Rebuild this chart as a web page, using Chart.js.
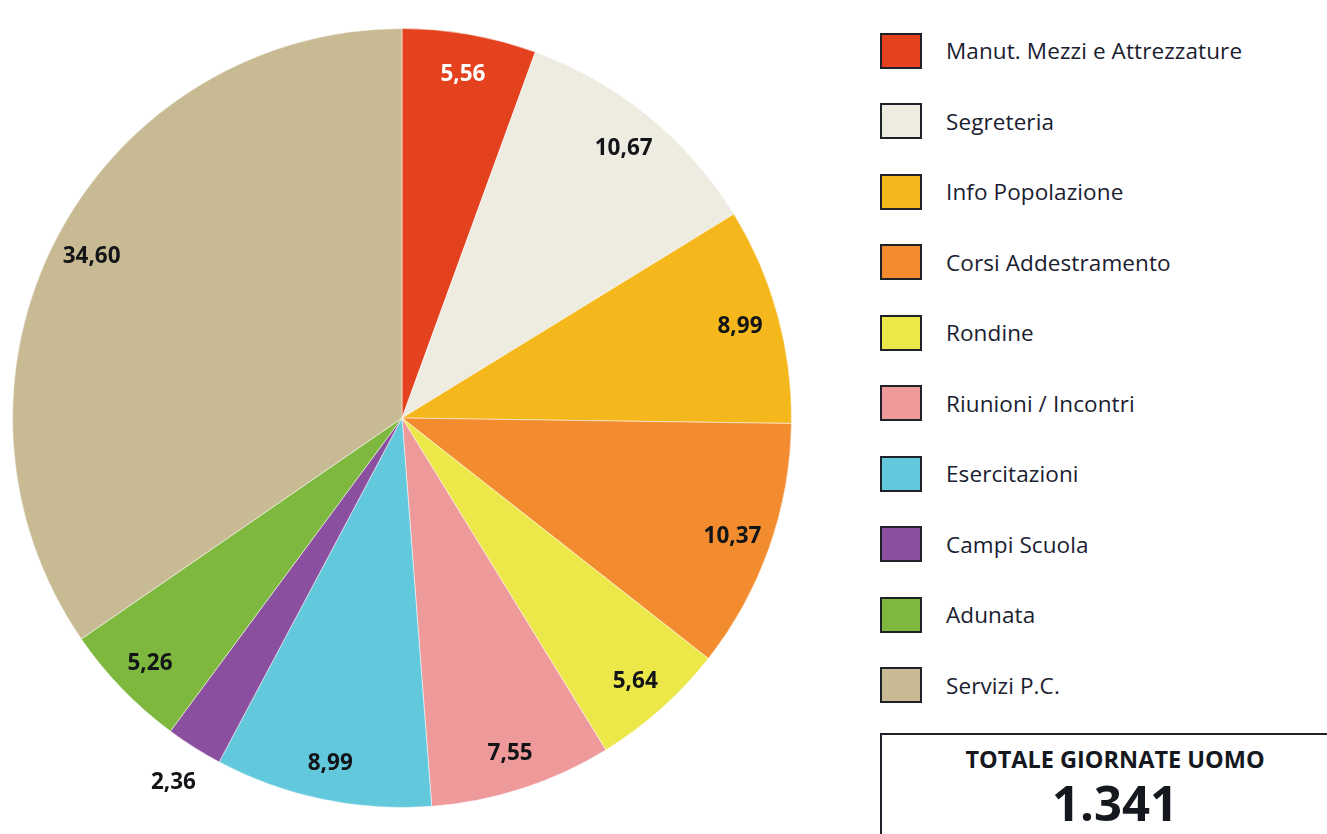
<!DOCTYPE html>
<html lang="it">
<head>
<meta charset="utf-8">
<title>Giornate uomo</title>
<script src="https://cdn.jsdelivr.net/npm/chart.js@4.4.1/dist/chart.umd.min.js"></script>
<style>
    body { margin: 0; background: #fff; font-family: "Open Sans", sans-serif; overflow: hidden; }
    #chartBox { position: absolute; left: 0; top: 0; width: 804px; height: 834px; }
    #legend { position: absolute; left: 880px; top: 0; }
    .item { position: absolute; left: 0; width: 440px; height: 36px; display: flex; align-items: center; }
    .swatch { width: 38px; height: 32px; border: 2px solid #1e2228; flex: none; }
    .item span { margin-left: 24px; font-size: 22.5px; color: #1a2030; white-space: nowrap; letter-spacing: 0.1px; }
    #totale { position: absolute; left: 880px; top: 733px; width: 470px; height: 120px;
              border: 2px solid #1e2228; box-sizing: border-box; }
    #totale .t1 { position: absolute; left: 0; width: 466px; top: 8px; text-align: center;
                  font-weight: 700; font-size: 23.5px; color: #15181e; }
    #totale .t2 { position: absolute; left: 0; width: 466px; top: 34px; text-align: center;
                  font-weight: 700; font-size: 49px; color: #15181e; }
</style>
</head>
<body>
<div id="chartBox"><canvas id="pieChart"></canvas></div>
<div id="legend"></div>
<div id="totale"><div class="t1"></div><div class="t2"></div></div>

<script>
const categories = [
    'Manut. Mezzi e Attrezzature',
    'Segreteria',
    'Info Popolazione',
    'Corsi Addestramento',
    'Rondine',
    'Riunioni / Incontri',
    'Esercitazioni',
    'Campi Scuola',
    'Adunata',
    'Servizi P.C.'
];
const percentages = [5.56, 10.67, 8.99, 10.37, 5.64, 7.55, 8.99, 2.36, 5.26, 34.60];
const sliceColors = ['#e4411e', '#eeebe1', '#f5b81c', '#f38c2f', '#ede84a',
                     '#ee999a', '#62c8dc', '#8b4fa0', '#7eb83e', '#c8bb93'];
const totalTitle = 'TOTALE GIORNATE UOMO';
const totalDays = 1341;

function fmtIt(v) {
    return v.toFixed(2).replace('.', ',');
}

// etichette dei valori sulle fette
const sliceLabels = {
    id: 'sliceLabels',
    afterDatasetsDraw(chart) {
        const ctx = chart.ctx;
        const meta = chart.getDatasetMeta(0);
        const sum = percentages.reduce((a, b) => a + b, 0);
        ctx.save();
        ctx.font = 'bold 22.5px "Open Sans", sans-serif';
        ctx.textAlign = 'center';
        ctx.textBaseline = 'middle';
        meta.data.forEach((arc, i) => {
            const p = arc.getProps(['x', 'y', 'startAngle', 'endAngle', 'outerRadius'], true);
            const mid = (p.startAngle + p.endAngle) / 2;
            const r = percentages[i] / sum < 0.03 ? p.outerRadius * 1.1 : p.outerRadius * 0.9;
            ctx.fillStyle = i === 0 ? '#ffffff' : '#121418';
            ctx.fillText(fmtIt(percentages[i]), p.x + Math.cos(mid) * r, p.y + Math.sin(mid) * r + 2);
        });
        ctx.restore();
    }
};

new Chart(document.getElementById('pieChart'), {
    type: 'pie',
    data: {
        labels: categories,
        datasets: [{
            data: percentages,
            backgroundColor: sliceColors,
            borderColor: 'rgba(255,255,255,0.5)',
            borderWidth: 1
        }]
    },
    options: {
        responsive: true,
        maintainAspectRatio: false,
        animation: false,
        events: [],
        layout: { padding: { left: 12, right: 12, top: 28, bottom: 26 } },
        plugins: {
            legend: { display: false },
            tooltip: { enabled: false }
        }
    },
    plugins: [sliceLabels]
});

// legenda
const legend = document.getElementById('legend');
categories.forEach((name, i) => {
    const item = document.createElement('div');
    item.className = 'item';
    item.style.top = (32.5 + i * 70.5) + 'px';
    item.innerHTML = '<div class="swatch" style="background:' + sliceColors[i] + '"></div><span>' + name + '</span>';
    legend.appendChild(item);
});

document.querySelector('#totale .t1').textContent = totalTitle;
document.querySelector('#totale .t2').textContent = String(totalDays).replace(/\B(?=(\d{3})+(?!\d))/g, '.');
</script>
</body>
</html>
